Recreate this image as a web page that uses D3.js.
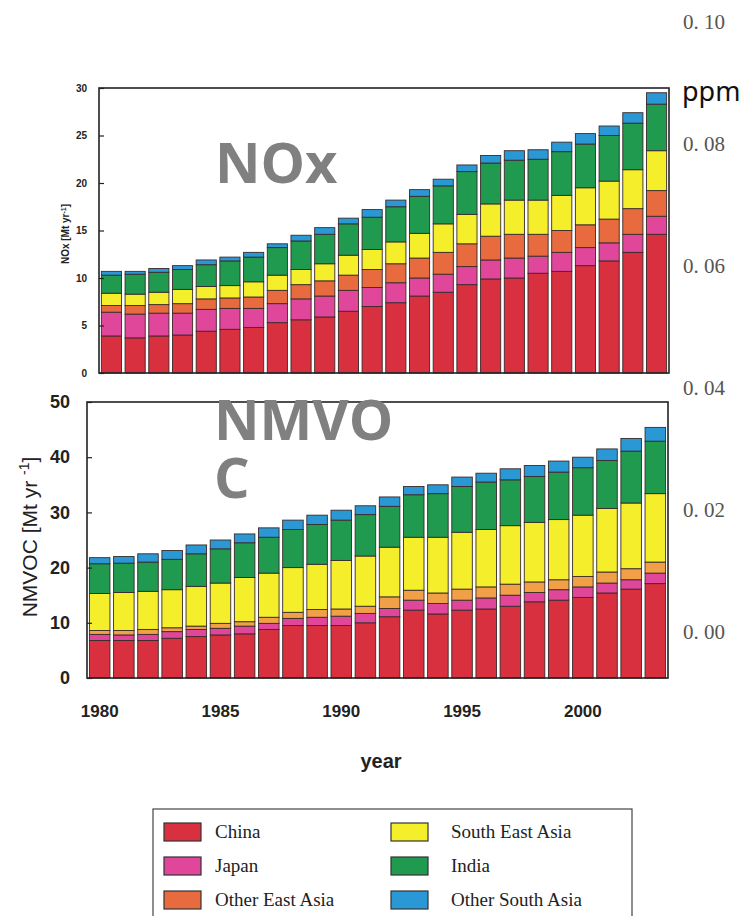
<!DOCTYPE html>
<html>
<head>
<meta charset="utf-8">
<script src="https://cdn.jsdelivr.net/npm/d3@7"></script>
<style>
  body { margin: 0; background: #fff; }
  svg { display: block; }
  #chart { position: relative; width: 745px; height: 916px; }
  .big {
    position: absolute; font-family: 'Open Sans', 'Noto Sans', sans-serif; font-weight: bold;
    font-size: 56px; line-height: 58px; color: #808080; word-break: break-all;
  }
</style>
</head>
<body>
<div id="chart"></div>
<script>
// emissions by region, Mt/yr
const years = [1980, 1981, 1982, 1983, 1984, 1985, 1986, 1987, 1988, 1989, 1990, 1991,
  1992, 1993, 1994, 1995, 1996, 1997, 1998, 1999, 2000, 2001, 2002, 2003];
const regions = ['China', 'Japan', 'Other East Asia', 'South East Asia', 'India', 'Other South Asia'];

const noxChina = [3.9, 3.7, 3.9, 4.0, 4.4, 4.6, 4.8, 5.3, 5.6, 5.9, 6.5, 7.0, 7.4, 8.1, 8.5, 9.3, 9.9, 10.0, 10.5, 10.7, 11.3, 11.8, 12.7, 14.6];
const noxJapan = [2.5, 2.5, 2.4, 2.3, 2.3, 2.2, 2.0, 2.0, 2.2, 2.2, 2.2, 2.0, 2.1, 1.9, 1.9, 1.9, 2.0, 2.1, 1.8, 2.0, 1.9, 1.9, 1.9, 1.9];
const noxOtherEA = [0.7, 0.9, 0.9, 1.0, 1.1, 1.1, 1.2, 1.4, 1.5, 1.6, 1.6, 1.9, 2.0, 2.1, 2.3, 2.4, 2.5, 2.5, 2.3, 2.3, 2.4, 2.5, 2.7, 2.7];
const noxSEA = [1.3, 1.2, 1.3, 1.5, 1.3, 1.3, 1.6, 1.6, 1.6, 1.8, 2.1, 2.1, 2.3, 2.6, 3.0, 3.1, 3.4, 3.6, 3.6, 3.7, 3.9, 4.0, 4.1, 4.2];
const noxIndia = [1.9, 2.1, 2.1, 2.1, 2.3, 2.6, 2.6, 2.9, 3.0, 3.1, 3.3, 3.4, 3.7, 3.9, 4.0, 4.5, 4.3, 4.2, 4.3, 4.6, 4.6, 4.8, 4.9, 4.9];
const noxOtherSA = [0.4, 0.3, 0.4, 0.4, 0.5, 0.4, 0.5, 0.4, 0.6, 0.7, 0.6, 0.8, 0.7, 0.7, 0.7, 0.7, 0.8, 1.0, 1.0, 1.0, 1.1, 1.0, 1.1, 1.2];

const vocChina = [6.8, 6.8, 6.8, 7.2, 7.5, 7.8, 8.0, 8.8, 9.5, 9.5, 9.5, 10.0, 11.1, 12.3, 11.6, 12.3, 12.5, 13.0, 13.8, 14.1, 14.6, 15.4, 16.1, 17.1];
const vocJapan = [1.1, 1.0, 1.1, 1.2, 1.3, 1.2, 1.4, 1.1, 1.3, 1.5, 1.7, 1.7, 1.5, 1.8, 1.9, 1.8, 2.0, 2.0, 1.7, 1.9, 1.9, 1.8, 1.7, 1.9];
const vocOtherEA = [0.7, 0.8, 0.9, 0.7, 0.6, 0.9, 0.8, 1.1, 1.1, 1.4, 1.3, 1.3, 2.1, 1.8, 1.9, 2.0, 2.0, 2.0, 1.9, 1.8, 1.9, 2.0, 2.0, 2.0];
const vocSEA = [6.7, 6.9, 6.9, 6.9, 7.2, 7.3, 8.0, 8.0, 8.1, 8.2, 8.8, 9.1, 9.0, 9.6, 10.1, 10.3, 10.4, 10.6, 10.8, 10.9, 11.1, 11.5, 11.9, 12.4];
const vocIndia = [5.4, 5.3, 5.3, 5.5, 5.9, 6.2, 6.3, 6.5, 6.9, 7.2, 7.3, 7.5, 7.4, 7.7, 7.9, 8.3, 8.6, 8.3, 8.3, 8.6, 8.6, 8.7, 9.4, 9.5];
const vocOtherSA = [1.1, 1.2, 1.5, 1.6, 1.6, 1.6, 1.6, 1.7, 1.7, 1.7, 1.8, 1.6, 1.7, 1.5, 1.6, 1.7, 1.6, 2.0, 2.0, 2.0, 1.9, 2.1, 2.3, 2.5];

const noxTicks = [0, 5, 10, 15, 20, 25, 30];
const vocTicks = [0, 10, 20, 30, 40, 50];
const yearTicks = [1980, 1985, 1990, 1995, 2000];
const ppmTicks = [0.00, 0.02, 0.04, 0.06, 0.08, 0.10];

const colors = ['#d9303f', '#e0479b', '#e86b3f', '#f5ee2b', '#1f9a4f', '#2a98d4'];
const vocColors = ['#d9303f', '#e0479b', '#f2a048', '#f5ee2b', '#1f9a4f', '#2a98d4'];

const W = 745, H = 916;
const sans = 'Liberation Sans, Arial, sans-serif';
const svg = d3.select('#chart').append('svg').attr('width', W).attr('height', H);
svg.append('rect').attr('width', W).attr('height', H).attr('fill', '#fff');

function rows(series) {
  return years.map((y, i) => {
    const r = { year: y };
    regions.forEach((k, j) => { r[k] = series[j][i]; });
    return r;
  });
}

// one stacked bar panel
function panel({ series, cols, left, right, top, bottom, ymax, ticks, tickFont, tickDx }) {
  const x = d3.scaleBand().domain(years).range([left, right]).paddingInner(0.15).paddingOuter(0.1);
  const y = d3.scaleLinear().domain([0, ymax]).range([bottom, top]);
  const stacked = d3.stack().keys(regions)(rows(series));
  const g = svg.append('g');

  g.selectAll('g.layer').data(stacked).enter().append('g')
    .attr('fill', (d, i) => cols[i])
    .selectAll('rect').data(d => d).enter().append('rect')
    .attr('x', d => x(d.data.year))
    .attr('width', x.bandwidth())
    .attr('y', d => y(d[1]))
    .attr('height', d => y(d[0]) - y(d[1]))
    .attr('stroke', '#3a2a2a')
    .attr('stroke-width', 0.9);

  // frame
  g.append('rect').attr('x', left).attr('y', top).attr('width', right - left).attr('height', bottom - top)
    .attr('fill', 'none').attr('stroke', '#222').attr('stroke-width', 1.6);

  const ax = g.append('g').attr('transform', `translate(${left},0)`)
    .call(d3.axisRight(y).tickValues(ticks).tickSize(5).tickFormat(d3.format('d')));
  ax.select('.domain').remove();
  ax.selectAll('line').attr('stroke', '#222').attr('stroke-width', 1.2);
  ax.selectAll('text').attr('x', tickDx).attr('text-anchor', 'end')
    .attr('font-family', sans).attr('font-size', tickFont).attr('font-weight', 'bold').attr('fill', '#222');
  return { x, y };
}

panel({
  series: [noxChina, noxJapan, noxOtherEA, noxSEA, noxIndia, noxOtherSA], cols: colors,
  left: 99, right: 669, top: 88, bottom: 373, ymax: 30, ticks: noxTicks,
  tickFont: 10, tickDx: -12
});

const bottomPanel = panel({
  series: [vocChina, vocJapan, vocOtherEA, vocSEA, vocIndia, vocOtherSA], cols: vocColors,
  left: 87, right: 668, top: 402, bottom: 678, ymax: 50, ticks: vocTicks,
  tickFont: 18, tickDx: -17
});

// year axis under the lower panel
const xa = svg.append('g').attr('transform', 'translate(0,702)')
  .call(d3.axisBottom(bottomPanel.x).tickValues(yearTicks).tickSize(0));
xa.select('.domain').remove();
xa.selectAll('text').attr('font-family', sans)
  .attr('font-size', 17).attr('font-weight', 'bold').attr('fill', '#222');

svg.append('text').attr('x', 381).attr('y', 768).attr('text-anchor', 'middle')
  .attr('font-family', sans).attr('font-size', 20)
  .attr('font-weight', 'bold').attr('fill', '#222').text('year');

// y-axis titles
const t1 = svg.append('text').attr('transform', 'translate(69,234) rotate(-90)')
  .attr('text-anchor', 'middle').attr('font-family', sans)
  .attr('font-size', 10).attr('font-weight', 'bold').attr('fill', '#222');
t1.append('tspan').text('NOx [Mt yr');
t1.append('tspan').attr('dy', -3.5).attr('font-size', 7).text('-1');
t1.append('tspan').attr('dy', 3.5).text(']');

const t2 = svg.append('text').attr('transform', 'translate(37,537) rotate(-90)')
  .attr('text-anchor', 'middle').attr('font-family', sans)
  .attr('font-size', 21).attr('fill', '#222');
t2.append('tspan').text('NMVOC [Mt yr ');
t2.append('tspan').attr('dy', -8).attr('font-size', 14).text('-1');
t2.append('tspan').attr('dy', 8).text(']');

// grey overlay labels: NMVOC is a narrow wrapped box in the figure
d3.select('#chart').append('div').attr('class', 'big')
  .style('left', '215px').style('top', '132px').style('width', '190px').text('NOx');
d3.select('#chart').append('div').attr('class', 'big')
  .style('left', '214px').style('top', '389px').style('width', '190px').text('NMVOC');

// ppm scale on the right
const yp = d3.scaleLinear().domain([0, 0.10]).range([632, 22]);
svg.append('g').selectAll('text').data(ppmTicks).enter().append('text')
  .attr('x', 683).attr('y', d => yp(d)).attr('dy', '0.35em')
  .attr('font-family', 'Liberation Serif, DejaVu Serif, serif').attr('font-size', 21)
  .attr('fill', '#555').text(d => d3.format('.2f')(d).replace('.', '. '));
svg.append('text').attr('x', 682).attr('y', 101).attr('font-family', 'Noto Sans, Open Sans, sans-serif')
  .attr('font-size', 27).attr('fill', '#111').text('ppm');

// legend (bottom edge runs off the page, as in the figure)
const lg = svg.append('g');
lg.append('rect').attr('x', 153).attr('y', 809).attr('width', 479).attr('height', 130)
  .attr('fill', '#fff').attr('stroke', '#444').attr('stroke-width', 1.2);
const legendCols = [164, 391];
const legendText = [215, 451];
const legendRows = [832, 866, 900];
regions.forEach((r, i) => {
  const c = Math.floor(i / 3), rr = i % 3;
  lg.append('rect').attr('x', legendCols[c]).attr('y', legendRows[rr] - 9).attr('width', 37).attr('height', 18)
    .attr('fill', colors[i]).attr('stroke', '#333').attr('stroke-width', 1.2);
  lg.append('text').attr('x', legendText[c]).attr('y', legendRows[rr]).attr('dy', '0.33em')
    .attr('font-family', 'Liberation Serif, Times New Roman, serif').attr('font-size', 19)
    .attr('fill', '#222').text(r);
});
</script>
</body>
</html>
